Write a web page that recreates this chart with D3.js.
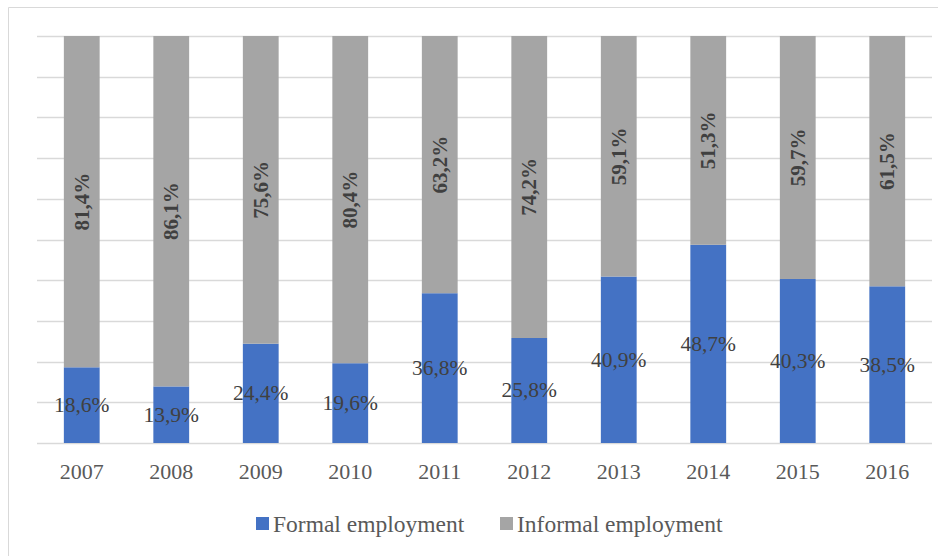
<!DOCTYPE html>
<html>
<head>
<meta charset="utf-8">
<script src="https://cdn.jsdelivr.net/npm/d3@7"></script>
<style>
  html, body { margin: 0; padding: 0; background: #fff; }
  svg { display: block; }
  text { font-family: "Liberation Serif", "DejaVu Serif", serif; }
</style>
</head>
<body>
<svg id="chart" width="948" height="556"></svg>
<script>
// Share of employment by type, per year (percent)
const years = ["2007", "2008", "2009", "2010", "2011", "2012", "2013", "2014", "2015", "2016"];
const formal = [18.6, 13.9, 24.4, 19.6, 36.8, 25.8, 40.9, 48.7, 40.3, 38.5];
const informal = [81.4, 86.1, 75.6, 80.4, 63.2, 74.2, 59.1, 51.3, 59.7, 61.5];
const seriesNames = ["Formal employment", "Informal employment"];
const seriesColors = ["#4472C4", "#A5A5A5"];
const gridTicks = [0, 10, 20, 30, 40, 50, 60, 70, 80, 90, 100];

const svg = d3.select("#chart");
const W = 948, H = 556;
const plot = { left: 37, right: 932, top: 36, bottom: 443 };

// Chart frame (top and left edges)
svg.append("line").attr("x1", 8.5).attr("x2", 938).attr("y1", 7.5).attr("y2", 7.5)
  .attr("stroke", "#d9d9d9").attr("stroke-width", 1);
svg.append("line").attr("x1", 8.5).attr("x2", 8.5).attr("y1", 7.5).attr("y2", H)
  .attr("stroke", "#d9d9d9").attr("stroke-width", 1);

const x = d3.scaleBand().domain(years).range([plot.left, plot.right]).paddingInner(0.6).paddingOuter(0.3);
const y = d3.scaleLinear().domain([0, 100]).range([plot.bottom, plot.top]);

// Horizontal gridlines
svg.append("g").selectAll("line").data(gridTicks).join("line")
  .attr("x1", plot.left).attr("x2", plot.right)
  .attr("y1", d => Math.round(y(d)) + 0.5).attr("y2", d => Math.round(y(d)) + 0.5)
  .attr("stroke", "#d9d9d9").attr("stroke-width", 1.5);

// Stack the two series
const rows = years.map((yr, i) => ({ year: yr, formal: formal[i], informal: informal[i] }));
const stack = d3.stack().keys(["formal", "informal"])(rows);

const layers = svg.append("g").selectAll("g").data(stack).join("g")
  .attr("fill", (d, i) => seriesColors[i]);

layers.selectAll("rect").data(d => d).join("rect")
  .attr("x", d => x(d.data.year))
  .attr("width", x.bandwidth())
  .attr("y", d => y(d[1]))
  .attr("height", d => y(d[0]) - y(d[1]));

const fmt = v => v.toFixed(1).replace(".", ",") + "%";

// Formal labels, horizontal, centred in the segment
svg.append("g").selectAll("text").data(stack[0]).join("text")
  .attr("x", d => x(d.data.year) + x.bandwidth() / 2)
  .attr("y", d => (y(d[0]) + y(d[1])) / 2)
  .attr("text-anchor", "middle").attr("dominant-baseline", "central")
  .attr("font-size", 21.5).attr("fill", "#404040")
  .text(d => fmt(d.data.formal));

// Informal labels, rotated, bold
svg.append("g").selectAll("text").data(stack[1]).join("text")
  .attr("transform", d => `translate(${x(d.data.year) + x.bandwidth() / 2},${(y(d[0]) + y(d[1])) / 2}) rotate(-90)`)
  .attr("text-anchor", "middle").attr("dominant-baseline", "central")
  .attr("font-size", 21).attr("font-weight", "bold").attr("fill", "#404040")
  .text(d => fmt(d.data.informal));

// Category axis
const xAxis = svg.append("g").attr("transform", `translate(0,${plot.bottom})`)
  .call(d3.axisBottom(x).tickSize(0).tickPadding(20));
xAxis.select(".domain").remove();
xAxis.selectAll("text").attr("font-size", 22).attr("fill", "#595959")
  .attr("font-family", "Liberation Serif, DejaVu Serif, serif");

// Legend
const legendItems = [
  { name: seriesNames[0], color: seriesColors[0], x: 256 },
  { name: seriesNames[1], color: seriesColors[1], x: 500 }
];
const lg = svg.append("g").selectAll("g").data(legendItems).join("g")
  .attr("transform", d => `translate(${d.x},517)`);
lg.append("rect").attr("width", 13).attr("height", 13).attr("fill", d => d.color);
lg.append("text").attr("x", 17).attr("y", 6.5).attr("dominant-baseline", "central")
  .attr("font-size", 23.5).attr("fill", "#595959").text(d => d.name);
</script>
</body>
</html>
